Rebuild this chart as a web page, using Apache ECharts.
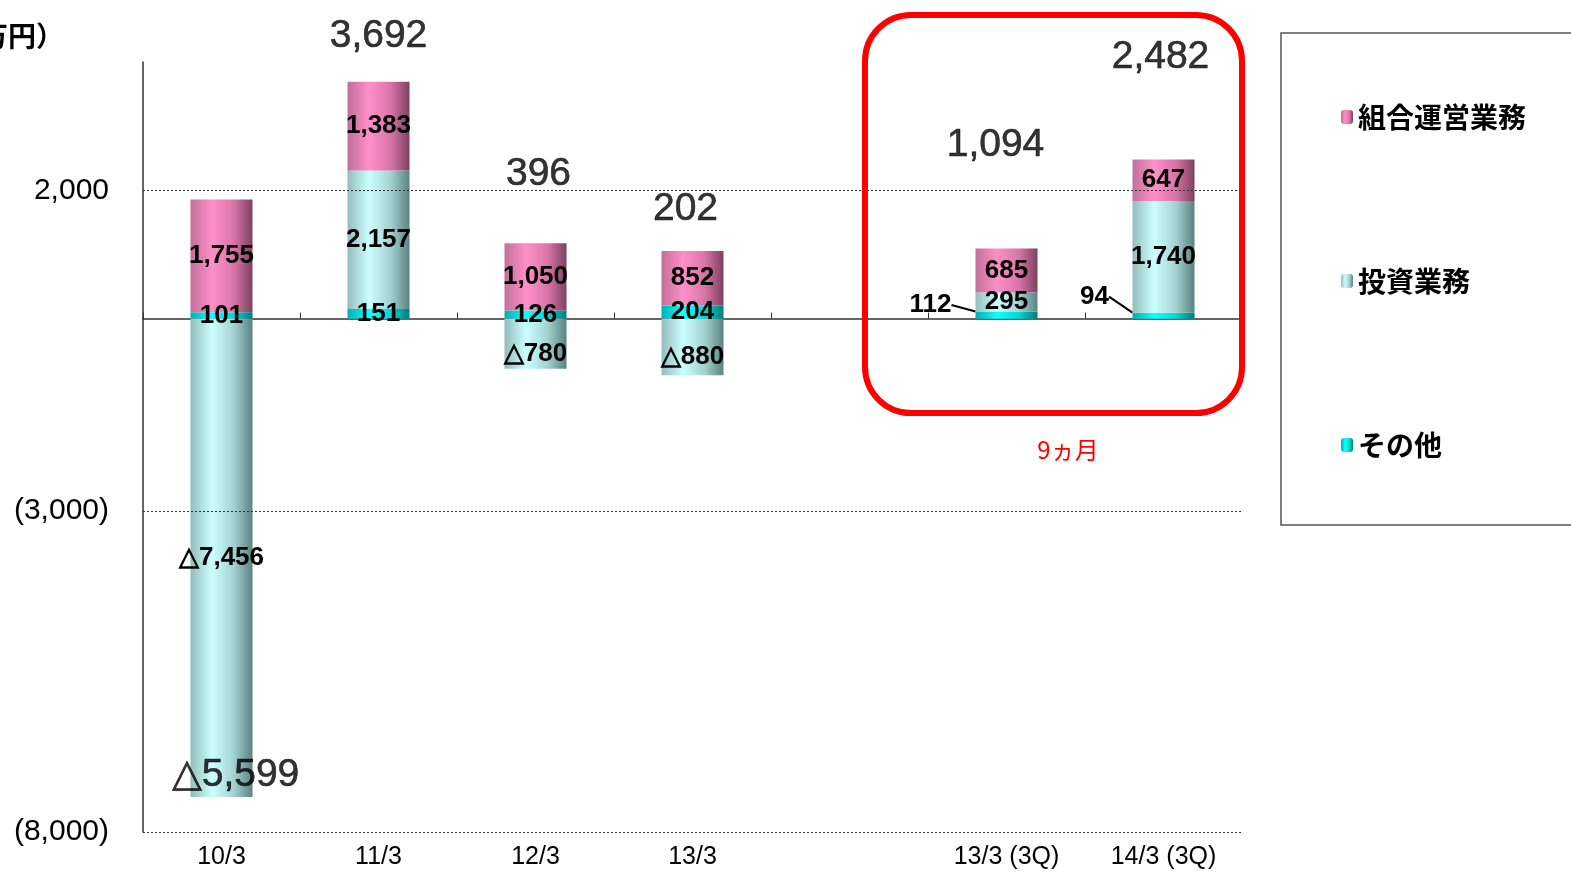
<!DOCTYPE html>
<html>
<head>
<meta charset="utf-8">
<script src="https://cdn.jsdelivr.net/npm/echarts@6/dist/echarts.min.js"></script>
<style>html,body{margin:0;padding:0;background:#fff;}#c{width:1571px;height:874px;}</style>
</head>
<body>
<div id="c"></div>
<script>
// ---- data ----
const categories = ['10/3', '11/3', '12/3', '13/3', '', '13/3 (3Q)', '14/3 (3Q)'];
const kumiai = [1755, 1383, 1050, 852, null, 685, 647];     // 組合運営業務
const toushi = [-7456, 2157, -780, -880, null, 295, 1740];  // 投資業務
const sonota = [101, 151, 126, 204, null, 112, 94];         // その他
const totals = [-5599, 3692, 396, 202, null, 1094, 2482];
const yTicks = [-8000, -3000, 2000];
const seriesNames = ['組合運営業務', '投資業務', 'その他'];

// ---- styling helpers ----
const totalShift = [[14, -2], [0, -26], [3, -49], [-7, -22], [0, 0], [-11, -84], [-3, -83]];
const sonotaShift = { 5: [-76, -10], 6: [-69, -19] };

function fmt(v) { return Math.abs(v).toLocaleString('en-US'); }
function segLabel(v) { return v < 0 ? '△' + fmt(v) : fmt(v); }

const chart = echarts.init(document.getElementById('c'));
const G = echarts.graphic.LinearGradient;
const pink = new G(0, 0, 1, 0, [
  { offset: 0, color: '#c0709a' }, { offset: 0.35, color: '#ff90c8' }, { offset: 0.7, color: '#d874a8' }, { offset: 1, color: '#7c4260' }]);
const cyan = new G(0, 0, 1, 0, [
  { offset: 0, color: '#94bcbc' }, { offset: 0.35, color: '#ccffff' }, { offset: 0.7, color: '#a4d0d0' }, { offset: 1, color: '#5a8282' }]);
const teal = new G(0, 0, 1, 0, [
  { offset: 0, color: '#00b0b0' }, { offset: 0.35, color: '#10ffff' }, { offset: 0.7, color: '#00d8d8' }, { offset: 1, color: '#007a7a' }]);

const segFont = { fontFamily: '"Liberation Sans", Arial, sans-serif', fontWeight: 'bold', fontSize: 26, color: '#000' };

// anchor for total labels: top of positive stack, or bottom of negative stack
const anchors = categories.map((c, i) => {
  if (totals[i] == null) return [i, null];
  const vals = [sonota[i], toushi[i], kumiai[i]];
  const pos = vals.filter(v => v > 0).reduce((a, b) => a + b, 0);
  const neg = vals.filter(v => v < 0).reduce((a, b) => a + b, 0);
  return [i, totals[i] < 0 ? neg : pos];
});

const option = {
  animation: false,
  grid: { left: 143, right: 329, top: 62, bottom: 42 },
  legend: {
    orient: 'vertical', left: 1336, top: 98, itemGap: 136,
    itemWidth: 12, itemHeight: 14,
    data: seriesNames,
    textStyle: { fontFamily: '"Noto Sans CJK JP", sans-serif', fontWeight: 'bold', fontSize: 28, color: '#000' },
    selectedMode: false
  },
  xAxis: [
    {
      type: 'category', data: categories, position: 'bottom',
      axisLine: { show: false, onZero: false }, axisTick: { show: false },
      axisLabel: { margin: 13, fontFamily: '"Liberation Sans", Arial, sans-serif', fontSize: 25, color: '#000' }
    },
    {
      type: 'category', data: categories, position: 'bottom',
      axisLine: { show: true, onZero: true, lineStyle: { color: '#333', width: 1.5 } },
      axisTick: { show: true, inside: true, length: 6, interval: 0, lineStyle: { color: '#333' } },
      axisLabel: { show: false }
    }
  ],
  yAxis: {
    type: 'value', min: -8000, max: 4000, interval: 1000,
    axisLine: { show: true, lineStyle: { color: '#333', width: 1.5 } },
    axisTick: { show: false }, splitLine: { show: false },
    axisLabel: {
      margin: 34, fontFamily: '"Liberation Sans", Arial, sans-serif', fontSize: 30, color: '#000',
      formatter: v => yTicks.includes(v) ? (v < 0 ? '(' + fmt(v) + ')' : fmt(v)) : ''
    }
  },
  series: [
    {
      name: 'その他', type: 'bar', stack: 's', barWidth: 62, data: sonota,
      itemStyle: { color: teal },
      label: { show: true, position: 'inside', formatter: p => segLabel(p.value), ...segFont },
      labelLine: { show: true, lineStyle: { color: '#000', width: 2 } },
      labelLayout: p => sonotaShift[p.dataIndex] ? { dx: sonotaShift[p.dataIndex][0], dy: sonotaShift[p.dataIndex][1] } : {},
      markLine: {
        silent: true, symbol: 'none', label: { show: false },
        lineStyle: { type: [2, 2], color: '#333', width: 1 },
        data: yTicks.map(v => ({ yAxis: v }))
      }
    },
    {
      name: '投資業務', type: 'bar', stack: 's', barWidth: 62, data: toushi,
      itemStyle: { color: cyan },
      label: { show: true, position: 'inside', formatter: p => segLabel(p.value), ...segFont },
      labelLayout: p => (toushi[p.dataIndex] < 0 && p.dataIndex > 0) ? { dy: 10 } : {}
    },
    {
      name: '組合運営業務', type: 'bar', stack: 's', barWidth: 62, data: kumiai,
      itemStyle: { color: pink },
      label: { show: true, position: 'inside', formatter: p => segLabel(p.value), ...segFont }
    },
    {
      name: 'total', type: 'scatter', symbolSize: 0, data: anchors, silent: true,
      label: {
        show: true, position: 'top', distance: 0,
        fontFamily: '"Liberation Sans", Arial, sans-serif', fontSize: 39, color: '#000',
        textBorderColor: '#000', textBorderWidth: 0.6,
        formatter: p => segLabel(totals[p.dataIndex])
      },
      labelLayout: p => ({ dx: totalShift[p.dataIndex][0], dy: totalShift[p.dataIndex][1] })
    }
  ],
  graphic: [
    {
      type: 'text', right: 1571 - 64, top: 22,
      style: { text: '（百万円）', font: 'bold 28px "Noto Sans CJK JP", sans-serif', fill: '#000' }
    },
    {
      type: 'rect', shape: { x: 865, y: 15, width: 377, height: 398, r: 46 },
      style: { fill: 'none', stroke: '#ff0000', lineWidth: 6 }, silent: true, z: 100
    },
    {
      type: 'text', x: 1068, y: 450,
      style: { text: '9ヵ月', font: '24px "Noto Sans CJK JP", sans-serif', fill: '#ff0000', textAlign: 'center', textVerticalAlign: 'middle' }
    },
    {
      type: 'rect', shape: { x: 1281, y: 33, width: 400, height: 492 },
      style: { fill: 'none', stroke: '#555', lineWidth: 1.5 }, silent: true, z: -1
    }
  ]
};
chart.setOption(option);
</script>
</body>
</html>
